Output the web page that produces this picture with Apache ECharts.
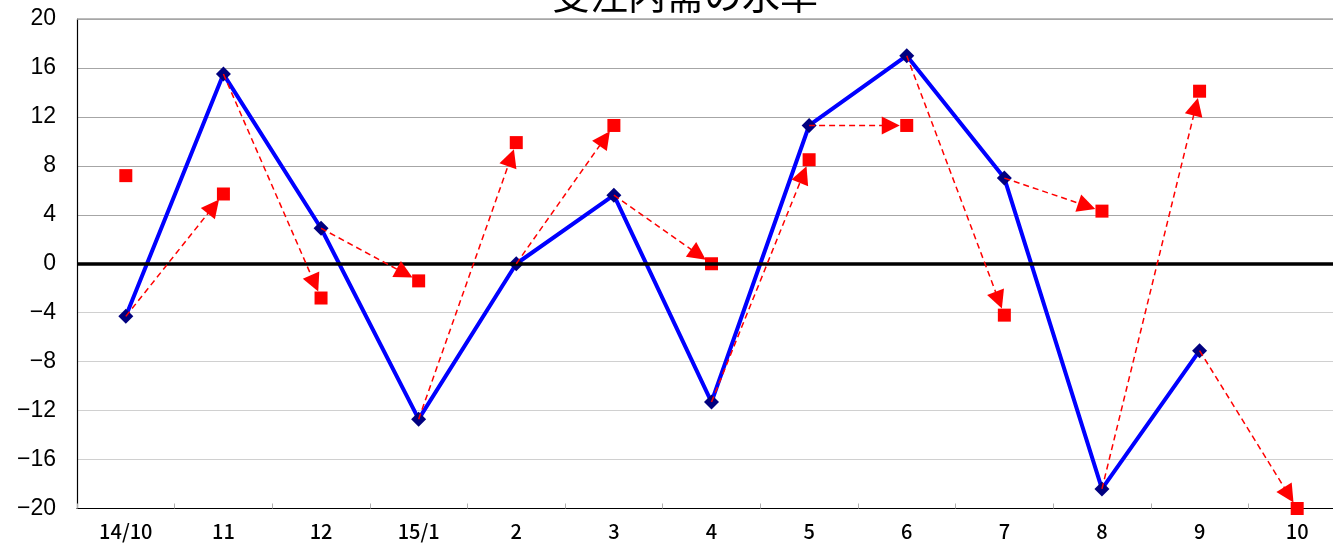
<!DOCTYPE html>
<html>
<head>
<meta charset="utf-8">
<script src="https://cdn.jsdelivr.net/npm/echarts@6/dist/echarts.min.js"></script>
<style>
html,body{margin:0;padding:0;background:#fff;overflow:hidden;width:1333px;height:544px;}
#chart{width:1346px;height:544px;}
</style>
</head>
<body>
<div id="chart"></div>
<script>
const titleText = '受注内需の水準';
const categories = ['14/10','11','12','15/1','2','3','4','5','6','7','8','9','10'];
const actual = [-4.3, 15.5, 2.9, -12.7, 0.0, 5.6, -11.3, 11.3, 17.0, 7.0, -18.4, -7.1, null];
const forecast = [7.2, 5.7, -2.8, -1.4, 9.9, 11.3, 0.0, 8.5, 11.3, -4.2, 4.3, 14.1, -20.0];
const yMin = -20, yMax = 20, yStep = 4;

// arrows: from previous actual value to this month's forecast
const arrows = [];
for (let i = 1; i < categories.length; i++) {
  if (actual[i - 1] != null && forecast[i] != null) {
    arrows.push([i - 1, actual[i - 1], i, forecast[i]]);
  }
}

// split line colours: darker above zero, lighter below, black zero line drawn separately
const splitColors = [];
for (let v = yMin; v <= yMax; v += yStep) {
  splitColors.push(v < 0 ? '#d0d0d0' : (v === 0 ? 'rgba(0,0,0,0)' : '#a6a6a6'));
}

const chart = echarts.init(document.getElementById('chart'));
chart.setOption({
  animation: false,
  backgroundColor: '#ffffff',
  graphic: [{
    type: 'text',
    left: 552,
    top: -24,
    style: {
      text: titleText,
      font: '38px "Noto Sans CJK JP"',
      fill: '#000'
    }
  }],
  grid: { left: 77, top: 19, right: 0, bottom: 35.5, containLabel: false },
  xAxis: {
    type: 'category',
    data: categories,
    boundaryGap: true,
    axisLine: { show: true, onZero: false, lineStyle: { color: '#000', width: 1.2 } },
    axisTick: { show: true, inside: true, length: 5, lineStyle: { color: '#b0b0b0' } },
    axisLabel: { fontSize: 20, color: '#000', margin: 13, fontWeight: 500, fontFamily: '"Noto Sans CJK JP"' },
    splitLine: { show: false }
  },
  yAxis: {
    type: 'value',
    min: yMin,
    max: yMax,
    interval: yStep,
    axisLine: { show: true, lineStyle: { color: '#000', width: 1.2 } },
    axisTick: { show: false },
    axisLabel: {
      fontSize: 23, color: '#000', margin: 21, fontFamily: '"Liberation Sans", Arial',
      formatter: v => String(v).replace('-', '\u2212')
    },
    splitLine: { show: true, lineStyle: { color: splitColors, width: 1.2 } }
  },
  series: [
    {
      name: '実績',
      type: 'line',
      data: actual,
      z: 3,
      symbol: 'diamond',
      symbolSize: 15,
      itemStyle: { color: '#000080' },
      lineStyle: { color: '#0000ff', width: 4 },
      markLine: {
        silent: true,
        symbol: 'none',
        label: { show: false },
        data: [
          { yAxis: 0, lineStyle: { color: '#000', width: 3.5, type: 'solid' } },
          { yAxis: yMax, lineStyle: { color: '#a6a6a6', width: 1.5, type: 'solid' } }
        ]
      }
    },
    {
      name: '見通し',
      type: 'scatter',
      data: forecast,
      z: 4,
      symbol: 'rect',
      symbolSize: 13,
      itemStyle: { color: '#ff0000', opacity: 1 }
    },
    {
      name: 'arrows',
      type: 'custom',
      z: 5,
      data: arrows,
      encode: { x: [0, 2], y: [1, 3] },
      renderItem: function (params, api) {
        const p1 = api.coord([api.value(0), api.value(1)]);
        const p2 = api.coord([api.value(2), api.value(3)]);
        const dx = p2[0] - p1[0], dy = p2[1] - p1[1];
        const len = Math.sqrt(dx * dx + dy * dy);
        const ux = dx / len, uy = dy / len;
        const nx = -uy, ny = ux;
        const gap = 7, L = 18, W = 9;
        const tip = [p2[0] - ux * gap, p2[1] - uy * gap];
        const base = [tip[0] - ux * L, tip[1] - uy * L];
        return {
          type: 'group',
          children: [
            {
              type: 'line',
              shape: { x1: p1[0], y1: p1[1], x2: base[0] + ux * 2, y2: base[1] + uy * 2 },
              style: { stroke: '#ff0000', lineWidth: 1.5, lineDash: [6, 4], fill: null }
            },
            {
              type: 'polygon',
              shape: { points: [tip, [base[0] + nx * W, base[1] + ny * W], [base[0] - nx * W, base[1] - ny * W]] },
              style: { fill: '#ff0000', stroke: null }
            }
          ]
        };
      }
    }
  ]
});
</script>
</body>
</html>
